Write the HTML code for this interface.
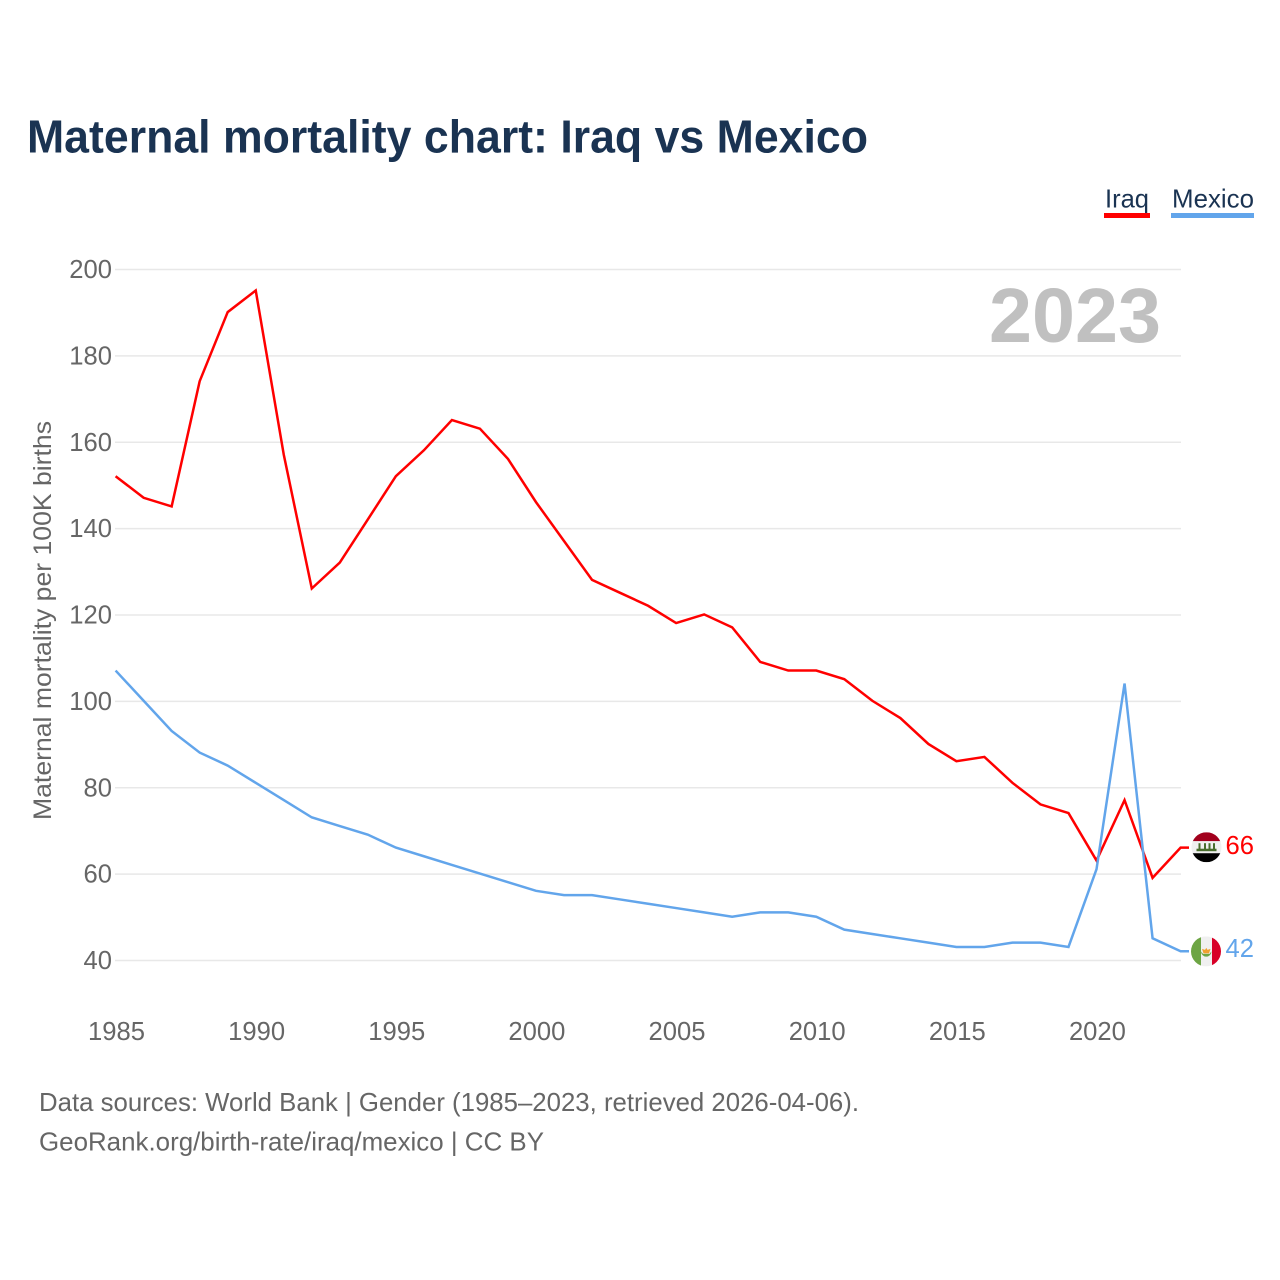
<!DOCTYPE html>
<html lang="en">
<head>
<meta charset="utf-8">
<title>Maternal mortality chart: Iraq vs Mexico</title>
<style>
html,body{margin:0;padding:0;background:#fff;}
svg{display:block;font-family:"Liberation Sans",sans-serif;}
</style>
</head>
<body>
<svg id="chart" xmlns="http://www.w3.org/2000/svg" width="1280" height="1280" viewBox="0 0 1280 1280">
  <defs>
    <clipPath id="flag-clip"><circle cx="0" cy="0" r="15"></circle></clipPath>
  </defs>
  <rect x="0" y="0" width="1280" height="1280" fill="#ffffff"></rect>
  <text x="27" y="152.500" font-size="46" font-weight="700" fill="#1a3352" textLength="841" lengthAdjust="spacingAndGlyphs">Maternal mortality chart: Iraq vs Mexico</text>
  <g>
    <g>
      <text x="1105" y="207.500" font-size="26" fill="#1a3352" textLength="44" lengthAdjust="spacingAndGlyphs">Iraq</text>
      <rect x="1104" y="213" width="46" height="5" fill="#ff0000"></rect>
    </g>
    <g>
      <text x="1172" y="207.500" font-size="26" fill="#1a3352" textLength="82" lengthAdjust="spacingAndGlyphs">Mexico</text>
      <rect x="1171" y="213" width="83" height="5" fill="#62a5eb"></rect>
    </g>
  </g>
  <g id="grid"></g>
  <g id="y-ticks"></g>
  <g id="x-ticks"></g>
  <text transform="translate(51,620.5) rotate(-90)" text-anchor="middle" font-size="25" fill="#666666" textLength="399" lengthAdjust="spacingAndGlyphs">Maternal mortality per 100K births</text>
  <text id="year-label" x="1161" y="342" text-anchor="end" font-size="77" font-weight="700" fill="#c0c0c0" textLength="172" lengthAdjust="spacingAndGlyphs">2023</text>
  <g id="series"></g>
  <g id="flag-iraq">
    <g clip-path="url(#flag-clip)">
      <rect x="-15" y="-15" width="30" height="9" fill="#a2001d"></rect>
      <rect x="-15" y="-6" width="30" height="12" fill="#f0f0f0"></rect>
      <rect x="-15" y="6" width="30" height="9" fill="#000000"></rect>
      <rect x="-10" y="1.500" width="20" height="2.500" fill="#496e2d"></rect>
      <rect x="-8" y="-4" width="2" height="6" fill="#496e2d"></rect>
      <rect x="-2.500" y="-4" width="2" height="6" fill="#496e2d"></rect>
      <rect x="2" y="-4" width="2" height="6" fill="#496e2d"></rect>
      <rect x="6.500" y="-4" width="2" height="6" fill="#496e2d"></rect>
    </g>
  </g>
  <g id="flag-mexico">
    <g clip-path="url(#flag-clip)">
      <rect x="-15" y="-15" width="10" height="30" fill="#6da544"></rect>
      <rect x="-5" y="-15" width="11" height="30" fill="#f0f0f0"></rect>
      <rect x="6" y="-15" width="9" height="30" fill="#d80027"></rect>
      <path d="M-5 0 A5 5 0 0 0 5.500 0 L3.500 2.500 L-3 2.500 Z" fill="#6da544"></path>
      <path d="M-4 -2.500 L-1 -1.500 L0.300 -3.500 L1.500 -1.500 L4.500 -2.500 L3 2 L-2.500 2 Z" fill="#f0a030"></path>
    </g>
  </g>
  <g id="end-labels"></g>
  <text x="39" y="1111" font-size="26" fill="#666666" textLength="820" lengthAdjust="spacingAndGlyphs">Data sources: World Bank | Gender (1985–2023, retrieved 2026-04-06).</text>
  <text x="39" y="1150.500" font-size="26" fill="#666666" textLength="505" lengthAdjust="spacingAndGlyphs">GeoRank.org/birth-rate/iraq/mexico | CC BY</text>
</svg>
<script>
const years = [1985,1986,1987,1988,1989,1990,1991,1992,1993,1994,1995,1996,1997,1998,1999,2000,2001,2002,2003,2004,2005,2006,2007,2008,2009,2010,2011,2012,2013,2014,2015,2016,2017,2018,2019,2020,2021,2022,2023];
const iraqValues = [152,147,145,174,190,195,157,126,132,142,152,158,165,163,156,146,137,128,125,122,118,120,117,109,107,107,105,100,96,90,86,87,81,76,74,63,77,59,66];
const mexicoValues = [107,100,93,88,85,81,77,73,71,69,66,64,62,60,58,56,55,55,54,53,52,51,50,51,51,50,47,46,45,44,43,43,44,44,43,61,104,45,42];
const yTickValues = [40,60,80,100,120,140,160,180,200];
const xTickValues = [1985,1990,1995,2000,2005,2010,2015,2020];

const SVG_NS = 'http://www.w3.org/2000/svg';
function xScale(year) {
  return 116 + (year - 1985) * (1181 - 116) / (2023 - 1985);
}
function yScale(value) {
  return 960.5 - (value - 40) * (960.5 - 269.5) / (200 - 40);
}
function make(tag, attrs, parent) {
  const el = document.createElementNS(SVG_NS, tag);
  for (const k in attrs) el.setAttribute(k, attrs[k]);
  parent.appendChild(el);
  return el;
}

const gridGroup = document.getElementById('grid');
const yGroup = document.getElementById('y-ticks');
yTickValues.forEach(function (v) {
  const line = make('line', {x1: 115, x2: xScale(2023), y1: yScale(v), y2: yScale(v), stroke: '#e8e8e8', 'stroke-width': 1.5}, gridGroup);
  
  
  const label = make('text', {x: 112, y: yScale(v) + 8.5, 'text-anchor': 'end', 'font-size': 25.6, fill: '#666666'}, yGroup);
  label.textContent = v;
  
  
});

const xGroup = document.getElementById('x-ticks');
xTickValues.forEach(function (t) {
  const label = make('text', {x: xScale(t) + 0.5, y: 1040, 'text-anchor': 'middle', 'font-size': 25.6, fill: '#666666'}, xGroup);
  label.textContent = t;
  
  
});

function pathFor(values) {
  const pts = values.map(function (v, i) {
    return (i ? 'L' : 'M') + (xScale(years[i]) - 0.4).toFixed(2) + ' ' + (yScale(v) - 0.6).toFixed(2);
  });
  const last = values[values.length - 1];
  pts.push('L' + (xScale(years[years.length - 1]) + 8).toFixed(2) + ' ' + (yScale(last) - 0.6).toFixed(2));
  return pts.join(' ');
}
const seriesGroup = document.getElementById('series');
const iraqLine = make('path', {d: pathFor(iraqValues), fill: 'none', stroke: '#ff0000', 'stroke-width': 2.5, 'stroke-linejoin': 'miter'}, seriesGroup);


const mexicoLine = make('path', {d: pathFor(mexicoValues), fill: 'none', stroke: '#62a5eb', 'stroke-width': 2.5, 'stroke-linejoin': 'miter'}, seriesGroup);



const lastIraq = iraqValues[iraqValues.length - 1];
const lastMexico = mexicoValues[mexicoValues.length - 1];
document.getElementById('flag-iraq').setAttribute('transform', 'translate(1206.5,' + (yScale(lastIraq) - 1) + ')');
document.getElementById('flag-mexico').setAttribute('transform', 'translate(1206,' + (yScale(lastMexico) - 0.5) + ')');

const endGroup = document.getElementById('end-labels');
const iraqEnd = make('text', {x: 1254, y: yScale(lastIraq) + 6, 'text-anchor': 'end', 'font-size': 25.6, fill: '#ff0000'}, endGroup);
iraqEnd.textContent = lastIraq;


const mexicoEnd = make('text', {x: 1254, y: yScale(lastMexico) + 5, 'text-anchor': 'end', 'font-size': 25.6, fill: '#62a5eb'}, endGroup);
mexicoEnd.textContent = lastMexico;


</script>
</body>
</html>
